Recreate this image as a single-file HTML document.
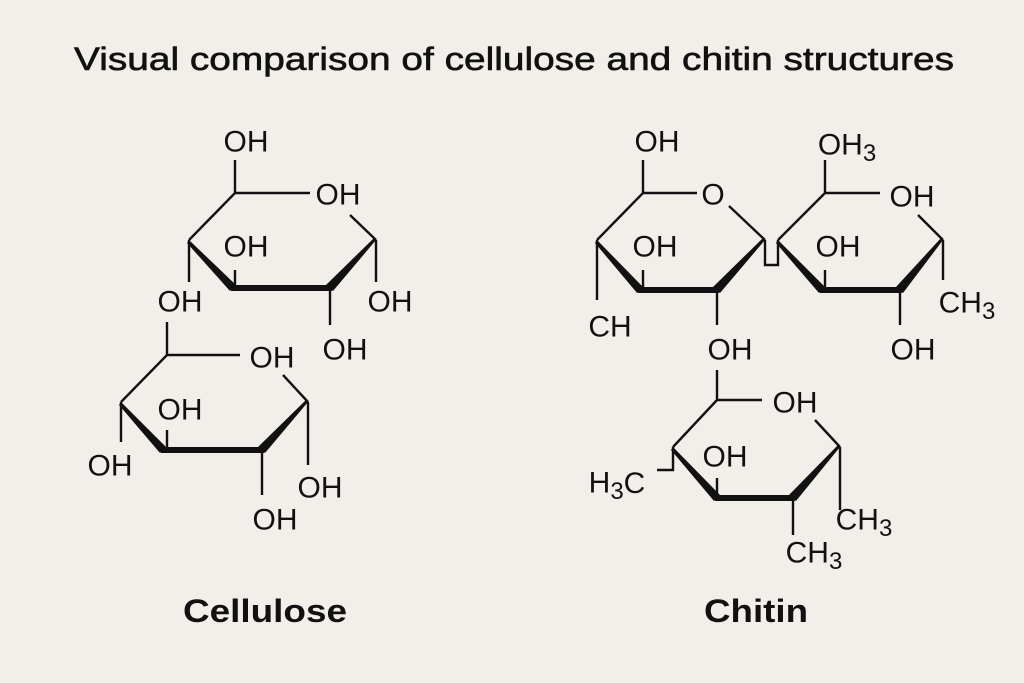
<!DOCTYPE html>
<html><head><meta charset="utf-8"><style>
html,body{margin:0;padding:0;background:#f2efea;}
svg{display:block}
text{font-family:"Liberation Sans",sans-serif;fill:#111;}
.l{font-size:30px;text-anchor:middle;dominant-baseline:central}
</style></head><body>
<svg width="1024" height="683" viewBox="0 0 1024 683">
<rect width="1024" height="683" fill="#f2efea"/>
<text x="514" y="70" font-size="32" text-anchor="middle" stroke="#111" stroke-width="0.6" textLength="880" lengthAdjust="spacingAndGlyphs">Visual comparison of cellulose and chitin structures</text>
<text x="265" y="622" font-size="32" font-weight="bold" text-anchor="middle" textLength="164" lengthAdjust="spacingAndGlyphs">Cellulose</text>
<text x="756" y="622" font-size="32" font-weight="bold" text-anchor="middle" textLength="104" lengthAdjust="spacingAndGlyphs">Chitin</text>

<g stroke="#111" stroke-width="2.4" fill="none" stroke-linecap="butt">
<path d="M235 160V193H310 M350 215L376 240 M235 193L189 240 M189 240V282 M376 240V282 M330 288V325 M235 270V288"/>
<path d="M167 322V355H240 M283 375L308 402 M167 355L121 402 M121 402V442 M308 402V465 M262 450V495 M167 430V450"/>
<path d="M643 160V193H697 M729 206L765 240 M643 193L597 240 M597 240V300 M717 290V325 M643 270V290 M765 240V265H778V240"/>
<path d="M825 160V193H880 M918 215L943 240 M825 193L778 240 M943 240V280 M900 290V325 M825 270V290"/>
<path d="M717 370V400H762 M815 420L840 447 M717 400L673 447 M673 447V470H657 M840 447V510 M793 498V535 M717 478V498"/>
</g>
<g fill="#111">
<polygon points="189,240 187,243 230,291 236,285"/><rect x="231" y="285" width="101" height="6"/><polygon points="376,240 374,238 326,285 333,291"/>
<polygon points="121,402 119,405 160,453 166,447"/><rect x="161" y="447" width="103" height="6"/><polygon points="308,402 306,400 258,447 265,453"/>
<polygon points="597,240 595,243 637,293 643,287"/><rect x="638" y="287" width="81" height="6"/><polygon points="765,240 763,238 713,287 720,293"/>
<polygon points="778,240 776,243 819,293 825,287"/><rect x="820" y="287" width="82" height="6"/><polygon points="943,240 941,238 896,287 903,293"/>
<polygon points="673,447 671,450 714,501 720,495"/><rect x="715" y="495" width="80" height="6"/><polygon points="840,447 838,445 789,495 796,501"/>
</g>
<g>
<text class="l" x="246" y="142">OH</text>
<text class="l" x="338" y="195">OH</text>
<text class="l" x="246" y="247">OH</text>
<text class="l" x="180" y="302">OH</text>
<text class="l" x="390" y="302">OH</text>
<text class="l" x="345" y="350">OH</text>
<text class="l" x="272" y="358">OH</text>
<text class="l" x="180" y="410">OH</text>
<text class="l" x="110" y="466">OH</text>
<text class="l" x="320" y="488">OH</text>
<text class="l" x="275" y="520">OH</text>

<text class="l" x="657" y="142">OH</text>
<text class="l" x="713" y="195">O</text>
<text class="l" x="655" y="247">OH</text>
<text class="l" x="610" y="327">CH</text>
<text class="l" x="730" y="350">OH</text>
<text class="l" x="847" y="145">OH<tspan font-size="24" dy="8">3</tspan></text>
<text class="l" x="912" y="197">OH</text>
<text class="l" x="838" y="247">OH</text>
<text class="l" x="967" y="303">CH<tspan font-size="24" dy="8">3</tspan></text>
<text class="l" x="913" y="350">OH</text>
<text class="l" x="795" y="403">OH</text>
<text class="l" x="725" y="457">OH</text>
<text class="l" x="617" y="483">H<tspan font-size="24" dy="8">3</tspan><tspan dy="-8">C</tspan></text>
<text class="l" x="864" y="520">CH<tspan font-size="24" dy="8">3</tspan></text>
<text class="l" x="814" y="553">CH<tspan font-size="24" dy="8">3</tspan></text>
</g>
</svg>
</body></html>
